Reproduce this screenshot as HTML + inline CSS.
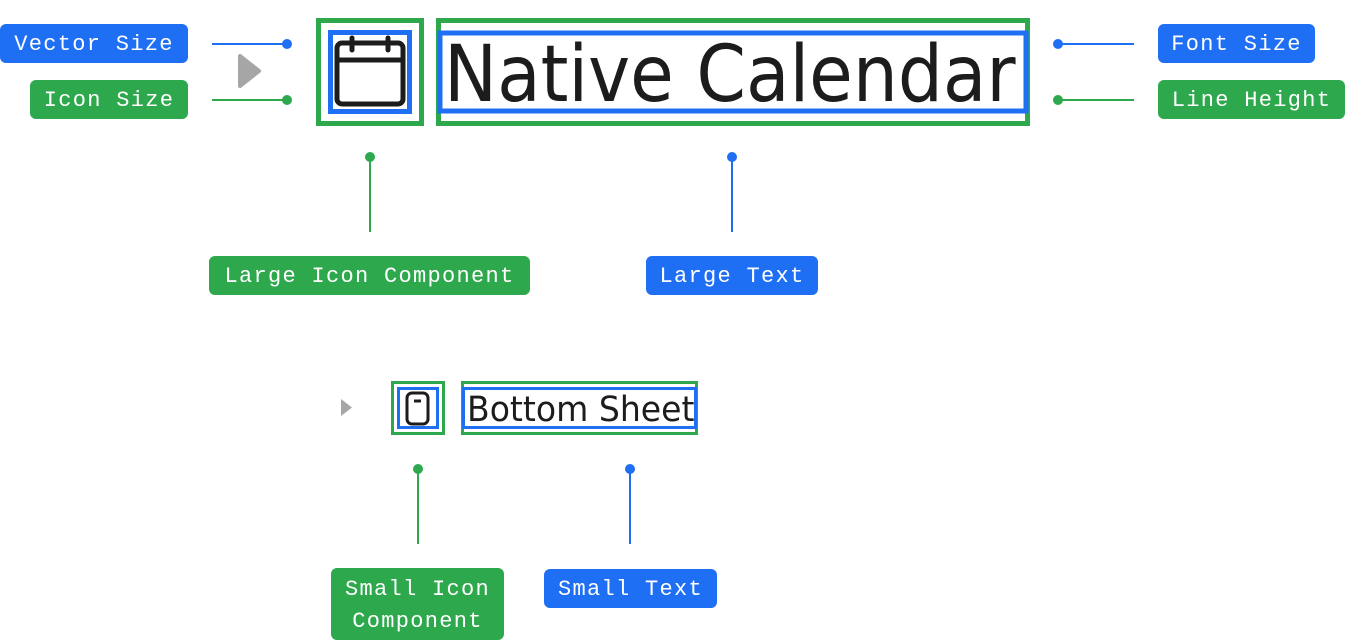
<!DOCTYPE html>
<html><head><meta charset="utf-8"><style>
html,body{margin:0;padding:0;background:#fff;width:1366px;height:640px;overflow:hidden;position:relative}
.l{position:absolute;color:#fff;font-family:"Liberation Mono",monospace;font-size:22px;letter-spacing:1.3px;border-radius:6px;display:flex;align-items:center;justify-content:center;text-align:center;line-height:32px;box-sizing:border-box;padding-top:3px}
.b{background:#1f6ff5}.g{background:#2ea84d}
.t{position:absolute;font-family:"DejaVu Sans","Liberation Sans",sans-serif;color:#1c1c1c;white-space:nowrap;transform-origin:0 0}
svg{position:absolute;left:0;top:0}
</style></head><body>
<svg width="1366" height="640">
<g stroke-width="2">
<line x1="212" y1="44" x2="287" y2="44" stroke="#1f6ff5"/><circle cx="287" cy="44" r="5" fill="#1f6ff5"/>
<line x1="212" y1="100" x2="287" y2="100" stroke="#2ea84d"/><circle cx="287" cy="100" r="5" fill="#2ea84d"/>
<line x1="1058" y1="44" x2="1134" y2="44" stroke="#1f6ff5"/><circle cx="1058" cy="44" r="5" fill="#1f6ff5"/>
<line x1="1058" y1="100" x2="1134" y2="100" stroke="#2ea84d"/><circle cx="1058" cy="100" r="5" fill="#2ea84d"/>
<line x1="370" y1="157" x2="370" y2="232" stroke="#2ea84d"/><circle cx="370" cy="157" r="5" fill="#2ea84d"/>
<line x1="732" y1="157" x2="732" y2="232" stroke="#1f6ff5"/><circle cx="732" cy="157" r="5" fill="#1f6ff5"/>
<line x1="418" y1="469" x2="418" y2="544" stroke="#2ea84d"/><circle cx="418" cy="469" r="5" fill="#2ea84d"/>
<line x1="630" y1="469" x2="630" y2="544" stroke="#1f6ff5"/><circle cx="630" cy="469" r="5" fill="#1f6ff5"/>
</g>
<path d="M240 56 L240 86 L259 71 Z" fill="#a6a6a6" stroke="#a6a6a6" stroke-width="4" stroke-linejoin="round"/>
<path d="M341 399 L352 407.5 L341 416 Z" fill="#a6a6a6"/>
<rect x="318.5" y="20.5" width="103" height="103" fill="none" stroke="#2ea84d" stroke-width="5"/>
<rect x="330.5" y="32.5" width="79" height="79" fill="none" stroke="#1f6ff5" stroke-width="5"/>
<rect x="337" y="43" width="66" height="61" rx="5" fill="none" stroke="#1c1c1c" stroke-width="5"/>
<line x1="337" y1="60" x2="403" y2="60" stroke="#1c1c1c" stroke-width="5"/>
<line x1="352" y1="38" x2="352" y2="50" stroke="#1c1c1c" stroke-width="5" stroke-linecap="round"/>
<line x1="388" y1="38" x2="388" y2="50" stroke="#1c1c1c" stroke-width="5" stroke-linecap="round"/>
<rect x="438.5" y="20.5" width="589" height="103" fill="none" stroke="#2ea84d" stroke-width="5"/>
<rect x="440" y="33" width="586" height="78" fill="none" stroke="#1f6ff5" stroke-width="5"/>
<rect x="392.5" y="382.5" width="51" height="51" fill="none" stroke="#2ea84d" stroke-width="3"/>
<rect x="398.5" y="388.5" width="39" height="39" fill="none" stroke="#1f6ff5" stroke-width="3"/>
<rect x="407" y="393" width="21" height="31" rx="5" fill="none" stroke="#1c1c1c" stroke-width="3"/>
<line x1="414" y1="401" x2="421" y2="401" stroke="#1c1c1c" stroke-width="3"/>
<rect x="462.5" y="382.5" width="234" height="51" fill="none" stroke="#2ea84d" stroke-width="3"/>
<rect x="463.5" y="388.5" width="232" height="39" fill="none" stroke="#1f6ff5" stroke-width="3"/>
</svg>
<div class="t" style="left:444px;top:25px;font-size:78px;line-height:100px;transform:scaleX(0.91)">Native Calendar</div>
<div class="t" style="left:467px;top:388px;font-size:35px;line-height:44px;transform:scaleX(0.945)">Bottom Sheet</div>
<div class="l b" style="left:0;top:24px;width:188px;height:39px">Vector Size</div>
<div class="l g" style="left:30px;top:80px;width:158px;height:39px">Icon Size</div>
<div class="l b" style="left:1158px;top:24px;width:157px;height:39px">Font Size</div>
<div class="l g" style="left:1158px;top:80px;width:187px;height:39px">Line Height</div>
<div class="l g" style="left:209px;top:256px;width:321px;height:39px">Large Icon Component</div>
<div class="l b" style="left:646px;top:256px;width:172px;height:39px">Large Text</div>
<div class="l g" style="left:331px;top:568px;width:173px;height:72px">Small Icon<br>Component</div>
<div class="l b" style="left:544px;top:569px;width:173px;height:39px">Small Text</div>
</body></html>
